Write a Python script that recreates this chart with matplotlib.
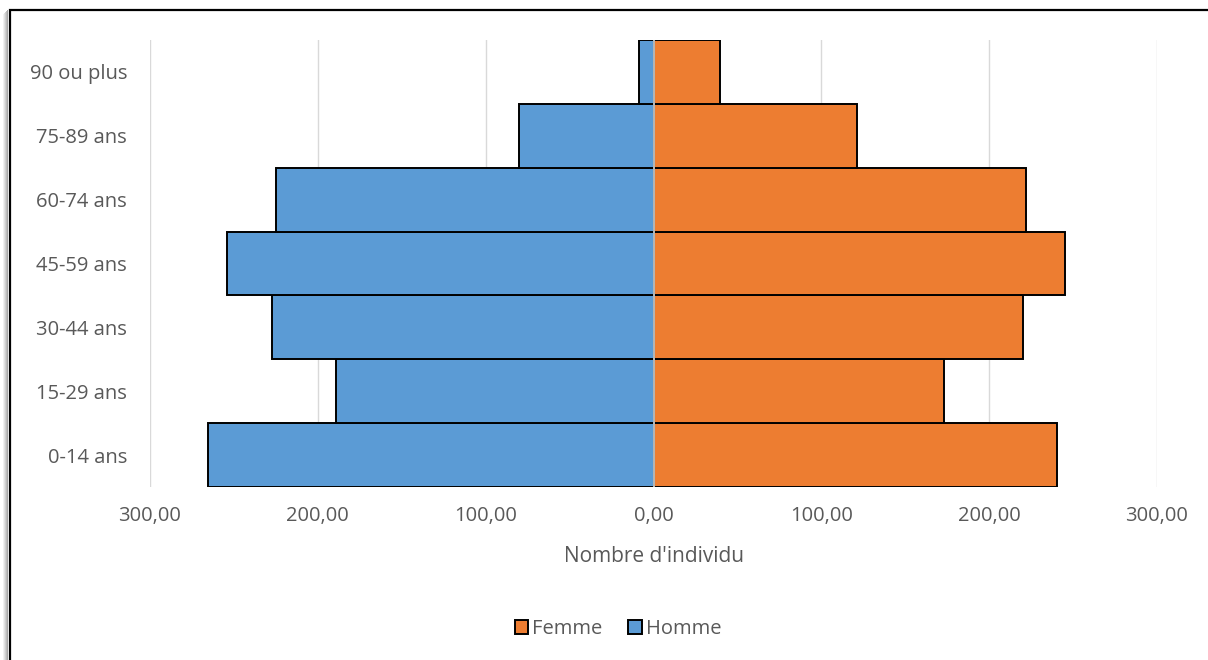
import numpy as np
import matplotlib.pyplot as plt
from matplotlib.patches import Rectangle
from matplotlib.ticker import FuncFormatter

categories = ['0-14 ans', '15-29 ans', '30-44 ans', '45-59 ans', '60-74 ans', '75-89 ans', '90 ou plus']
homme = [265.2, 188.9, 227.1, 253.9, 224.7, 79.9, 8.9]
femme = [240.2, 172.8, 219.9, 244.9, 221.7, 121.0, 39.9]
xticks = [-300, -200, -100, 0, 100, 200, 300]

blue = '#5B9BD5'
orange = '#ED7D31'
grey_txt = '#595959'

plt.rcParams['font.family'] = ['Open Sans', 'DejaVu Sans']

fig = plt.figure(figsize=(12.08, 6.6), dpi=100)
W, H = 1208, 660

# outer frame with a little shadow on the left
for i, c in enumerate(['#f0f0f0', '#e0e0e0', '#cfcfcf', '#bdbdbd', '#a8a8a8']):
    fig.add_artist(Rectangle(((3 + i) / W, 0), 1 / W, (H - 14 + i) / H,
                             transform=fig.transFigure, facecolor=c, edgecolor='none',
                             zorder=-2))
fig.add_artist(Rectangle((9.5 / W, -0.05), 1.2, (H - 10) / H + 0.05,
                         transform=fig.transFigure, facecolor='none',
                         edgecolor='black', linewidth=1.6, zorder=5))

ax = fig.add_axes([150 / W, (H - 487) / H, (1157 - 150) / W, (487 - 40) / H])
ax.patch.set_alpha(0)
y = np.arange(len(categories))

ax.barh(y, [-v for v in homme], height=1.0, color=blue, edgecolor='black',
        linewidth=1.4, label='Homme', zorder=2)
ax.barh(y, femme, height=1.0, color=orange, edgecolor='black',
        linewidth=1.4, label='Femme', zorder=2)
ax.axvline(0, color='#d9d9d9', linewidth=1.2, zorder=3)

ax.set_xlim(-300, 300)
ax.set_ylim(-0.5, len(categories) - 0.5)
ax.set_xticks(xticks)
ax.xaxis.set_major_formatter(FuncFormatter(lambda v, p: f'{abs(v):.2f}'.replace('.', ',')))
ax.set_yticks(y)
ax.set_yticklabels(categories)
ax.grid(axis='x', color='#d9d9d9', linewidth=1.0, zorder=0)
ax.set_axisbelow(True)
for s in ax.spines.values():
    s.set_visible(False)
ax.tick_params(axis='both', length=0, labelsize=14.5, colors=grey_txt)
ax.tick_params(axis='x', pad=14)
ax.tick_params(axis='y', pad=16.5)
ax.set_xlabel("Nombre d'individu", fontsize=15, color=grey_txt, labelpad=14)

handles, labels = ax.get_legend_handles_labels()
fig.legend(handles[::-1], labels[::-1], loc='center', bbox_to_anchor=(618 / W, 1 - 629 / H),
           ncol=2, frameon=False, fontsize=14.5, handlelength=0.65, handleheight=0.65,
           handletextpad=0.2, columnspacing=1.3, labelcolor=grey_txt)

fig.savefig('out.png', dpi=100)
